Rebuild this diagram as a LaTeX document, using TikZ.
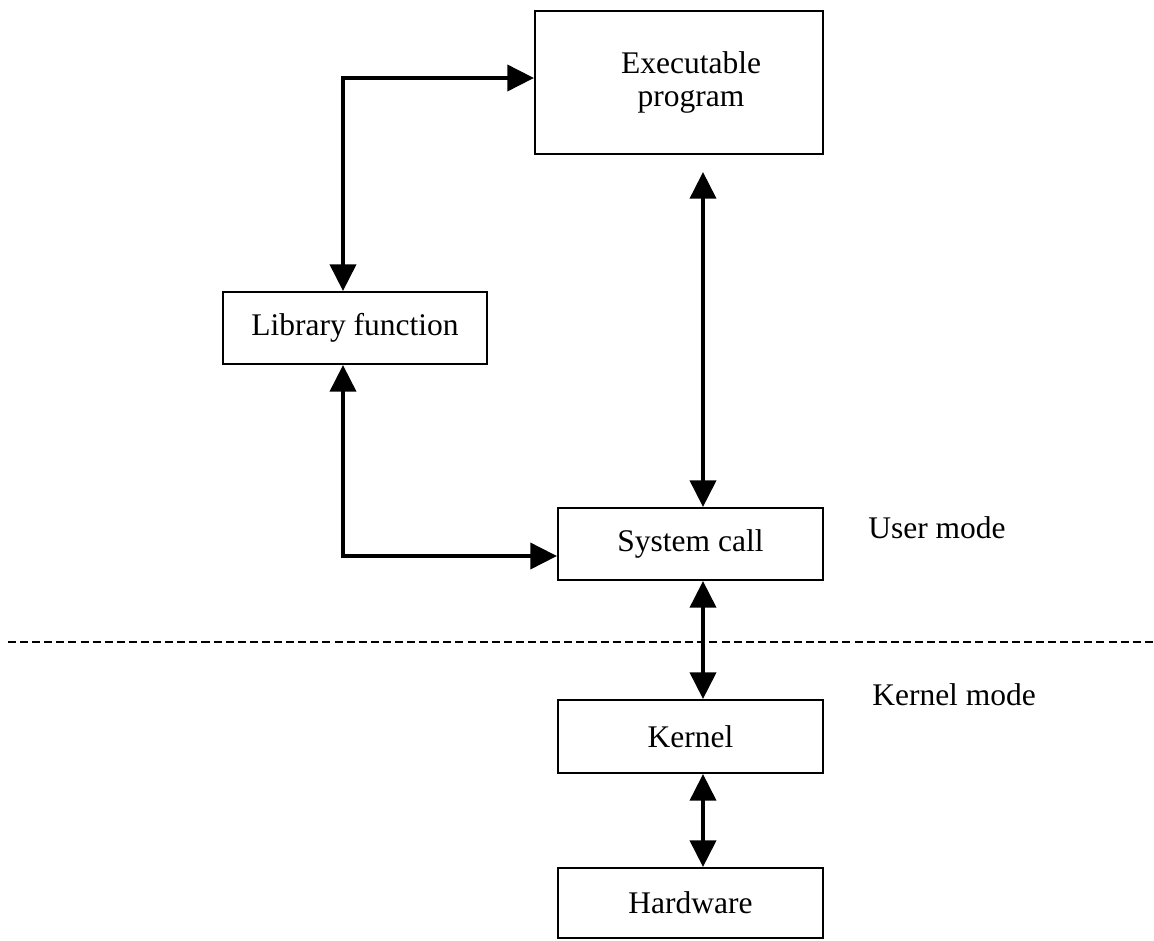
\documentclass[tikz,border=0pt]{standalone}
\usepackage{fontspec}
\setmainfont{Liberation Serif}
\usetikzlibrary{arrows.meta}

\tikzset{
  box/.style={draw,line width=1.4pt,inner sep=0pt,align=center,minimum width=6.625cm,minimum height=1.8cm},
  biarrow/.style={line width=2.8pt,{Triangle[length=19pt,width=18.5pt]}-{Triangle[length=19pt,width=18.5pt]}},
  modelabel/.style={anchor=west,inner sep=0pt},
}

\begin{document}
\begin{tikzpicture}[x=0.025cm,y=-0.025cm,font=\fontsize{22.4}{23.5}\selectfont]
\useasboundingbox (0,0) rectangle (1154,940);

\node[box,minimum width=7.2cm,minimum height=3.575cm] (exec) at (679,82.5) {\hspace*{0.6cm}Executable\\\hspace*{0.6cm}program};
\node[box,minimum width=6.6cm] (lib) at (355,328) {Library function};
\node[box] (sys) at (690.5,544) {System call};
\node[box,minimum height=1.825cm] (kern) at (690.5,736.5) {Kernel};
\node[box,minimum height=1.75cm] (hw) at (690.5,903) {Hardware};

\node[modelabel] (user) at (868,528) {User mode};
\node[modelabel] (kmode) at (872,695) {Kernel mode};

\draw[line width=1.6pt,dash pattern=on 5.7pt off 2.9pt] (8,642) -- (1154,642);

\coordinate (lt) at (343,78);
\coordinate (lb) at (343,556);
\coordinate (ex) at (703,172);
\draw[biarrow] (lib.north -| lt) -- (lt) -- (lt -| exec.west);
\draw[biarrow] (lib.south -| lb) -- (lb) -- (lb -| sys.west);
\draw[biarrow] (ex) -- (ex |- sys.north);
\draw[biarrow] (sys.south -| ex) -- (kern.north -| ex);
\draw[biarrow] (kern.south -| ex) -- (hw.north -| ex);
\end{tikzpicture}
\end{document}
